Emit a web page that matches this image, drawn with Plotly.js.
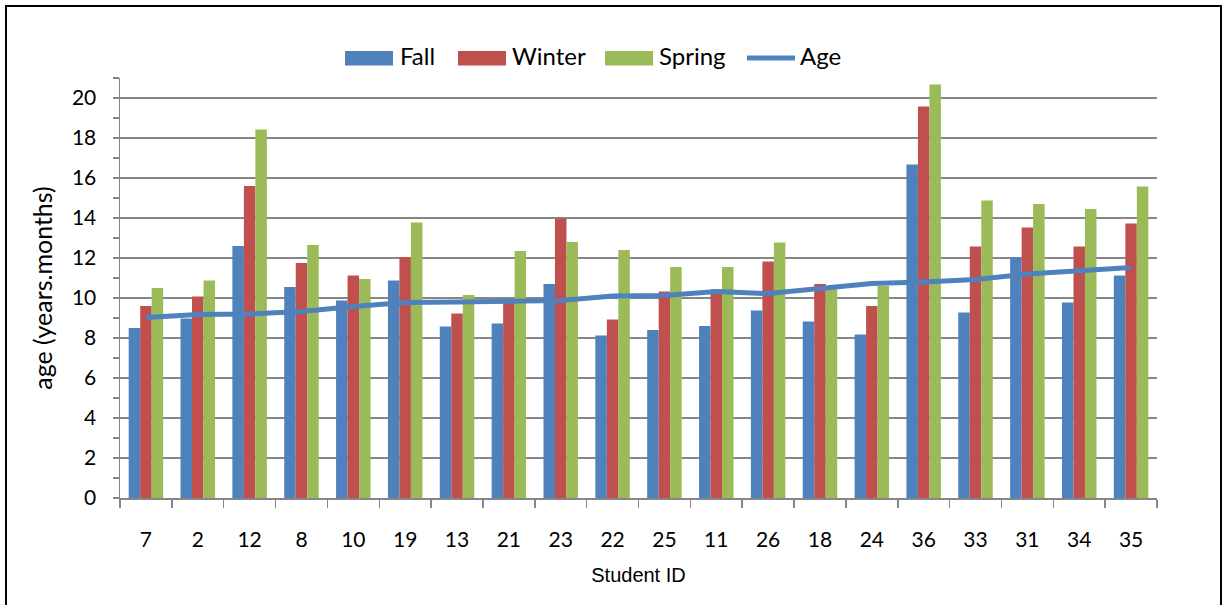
<!DOCTYPE html>
<html>
<head>
<meta charset="utf-8">
<script src="https://cdn.plot.ly/plotly-3.0.1.min.js"></script>
<style>
  body { margin: 0; padding: 0; background: #fff; }
  #chart { position: absolute; left: 0; top: 0; width: 1226px; height: 605px; }
  #frame { position: absolute; left: 5px; top: 5px; width: 1213px; height: 612px; border: 2px solid #000; pointer-events: none; }
</style>
</head>
<body>
<div id="chart"></div>
<div id="frame"></div>
<script>
const studentIds = ["7","2","12","8","10","19","13","21","23","22","25","11","26","18","24","36","33","31","34","35"];
const fall   = [8.5, 8.97, 12.6, 10.55, 9.87, 10.88, 8.57, 8.73, 10.7, 8.13, 8.4, 8.6, 9.38, 8.83, 8.18, 16.68, 9.28, 12.02, 9.78, 11.13];
const winter = [9.6, 10.08, 15.6, 11.75, 11.13, 12.05, 9.22, 9.9, 13.98, 8.92, 10.32, 10.43, 11.83, 10.7, 9.6, 19.57, 12.57, 13.52, 12.58, 13.73];
const spring = [10.5, 10.88, 18.43, 12.65, 10.95, 13.78, 10.15, 12.35, 12.8, 12.4, 11.55, 11.55, 12.77, 10.48, 10.6, 20.67, 14.88, 14.7, 14.45, 15.58];
const age    = [9.03, 9.18, 9.2, 9.33, 9.57, 9.77, 9.8, 9.87, 9.88, 10.1, 10.12, 10.33, 10.22, 10.48, 10.73, 10.8, 10.93, 11.2, 11.38, 11.52];

const seriesNames = ["Fall", "Winter", "Spring", "Age"];
const seriesColors = ["#4F81BD", "#C0504D", "#9BBB59", "#4F81BD"];

const labelFont = { family: "Lato, 'Open Sans', sans-serif", size: 21, color: "#000" };

const traces = [
  { type: "bar", name: seriesNames[0], x: studentIds, y: fall,   marker: { color: seriesColors[0] } },
  { type: "bar", name: seriesNames[1], x: studentIds, y: winter, marker: { color: seriesColors[1] } },
  { type: "bar", name: seriesNames[2], x: studentIds, y: spring, marker: { color: seriesColors[2] } },
  { type: "scatter", mode: "lines", name: seriesNames[3], x: studentIds, y: age,
    line: { color: seriesColors[3], width: 5 } }
];

// Custom legend (wide swatches like the reference), in plot-area paper coordinates
const PX0 = 120, PW = 1037, PY0 = 498, PH = 420;
const px = X => (X - PX0) / PW;
const py = Y => (PY0 - Y) / PH;
const swatchX = [345, 458, 605, 745];
const textX = [399, 511, 658, 799];
const shapes = [];
const annotations = [];
seriesNames.forEach((name, i) => {
  if (i < 3) {
    shapes.push({ type: "rect", xref: "paper", yref: "paper",
      x0: px(swatchX[i]), x1: px(swatchX[i] + 48), y0: py(65.5), y1: py(51),
      fillcolor: seriesColors[i], line: { width: 0 } });
  } else {
    shapes.push({ type: "line", xref: "paper", yref: "paper",
      x0: px(swatchX[i] + 2), x1: px(swatchX[i] + 50), y0: py(58), y1: py(58),
      line: { color: seriesColors[i], width: 5 } });
  }
  annotations.push({ xref: "paper", yref: "paper", x: px(textX[i]), y: py(56),
    xanchor: "left", yanchor: "middle", showarrow: false, borderpad: 0,
    text: name, font: { family: "Lato, 'Open Sans', sans-serif", size: 24, color: "#000" } });
});

const layout = {
  width: 1226, height: 605,
  margin: { l: 120, r: 69, t: 78, b: 107 },
  paper_bgcolor: "#fff", plot_bgcolor: "#fff",
  barmode: "group", bargap: 0.335, bargroupgap: 0,
  showlegend: false,
  shapes: shapes,
  annotations: annotations,
  xaxis: {
    type: "category",
    tickson: "boundaries",
    ticks: "outside", ticklen: 8, tickwidth: 1.5, tickcolor: "#868686",
    ticklabelstandoff: 22,
    showline: true, linecolor: "#868686", linewidth: 1.5,
    showgrid: false, zeroline: false,
    tickfont: labelFont,
    title: { text: "Student ID", font: { family: "'Liberation Sans', Arial, sans-serif", size: 20, color: "#000" }, standoff: 18 }
  },
  yaxis: {
    range: [0, 21],
    tickvals: [0,2,4,6,8,10,12,14,16,18,20],
    ticks: "outside", ticklen: 6, tickwidth: 1.5, tickcolor: "#868686",
    minor: { tickvals: [1,3,5,7,9,11,13,15,17,19,21], ticks: "outside", ticklen: 6, tickwidth: 1.5, tickcolor: "#868686", showgrid: false },
    ticklabelstandoff: 12,
    showline: true, linecolor: "#868686", linewidth: 1.5,
    showgrid: true, gridcolor: "#868686", gridwidth: 1.5,
    zeroline: false,
    tickfont: labelFont,
    title: { text: "age (years.months)", font: { family: "Lato, 'Open Sans', sans-serif", size: 25, color: "#000" }, standoff: 12 }
  },
  yaxis2: {
    overlaying: "y", side: "left", range: [0, 21],
    tickvals: [0,2,4,6,8,10,12,14,16,18,20],
    ticks: "inside", ticklen: 6, tickwidth: 1.5, tickcolor: "#868686",
    minor: { tickvals: [1,3,5,7,9,11,13,15,17,19,21], ticks: "inside", ticklen: 6, tickwidth: 1.5, tickcolor: "#868686", showgrid: false },
    showticklabels: false, showgrid: false, zeroline: false, showline: false
  }
};

Plotly.newPlot("chart", traces, layout, { displayModeBar: false, staticPlot: true });
</script>
</body>
</html>
